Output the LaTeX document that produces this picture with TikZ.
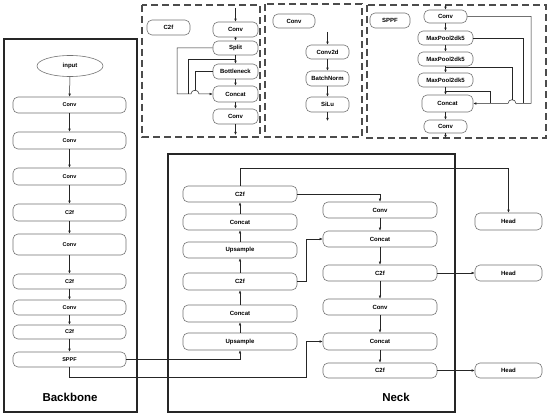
\documentclass[tikz,border=0pt]{standalone}
\usepackage{fontspec}
\setmainfont{Liberation Sans}
\usetikzlibrary{arrows.meta,shapes.geometric}
\begin{document}
\begin{tikzpicture}[x=1pt,y=-1pt,
  blk/.style={draw=black!55, line width=0.6pt, rounded corners=5pt, inner sep=0pt, font=\fontsize{6}{7}\selectfont\bfseries},
  bblk/.style={blk, font=\fontsize{5.5}{6}\selectfont\bfseries, minimum width=113pt},
  lblk/.style={blk, minimum width=114pt},
  arr/.style={-{Latex[length=3pt,width=2.6pt]}, line width=0.5pt, draw=black!85},
  ln/.style={line width=0.5pt, draw=black!85},
  frame/.style={draw=black!85, line width=1.2pt},
  dframe/.style={draw=black!70, line width=1.1pt, dash pattern=on 7pt off 4pt},
  title/.style={font=\fontsize{11.5}{13}\selectfont\bfseries}]
\useasboundingbox (0,0) rectangle (550,417);
\fill[white] (0,0) rectangle (550,417);

% ---------------- Backbone ----------------
\draw[frame] (4,39) rectangle (137,412);
\node[draw=black!55, line width=0.6pt, ellipse, minimum width=66pt, minimum height=21pt, inner sep=0pt, font=\fontsize{6}{7}\selectfont\bfseries] (in) at (70,66) {input};
\node[bblk, minimum height=16pt] (b1) at (69.5,105) {Conv};
\node[bblk, minimum height=17pt] (b2) at (69.5,140.5) {Conv};
\node[bblk, minimum height=17pt] (b3) at (69.5,176.5) {Conv};
\node[bblk, minimum height=17pt] (b4) at (69.5,212.5) {C2f};
\node[bblk, minimum height=21pt] (b5) at (69.5,244.5) {Conv};
\node[bblk, minimum height=15pt] (b6) at (69.5,281.5) {C2f};
\node[bblk, minimum height=15pt] (b7) at (69.5,307.5) {Conv};
\node[bblk, minimum height=14pt] (b8) at (69.5,332) {C2f};
\node[bblk, minimum height=15pt] (b9) at (69.5,359.5) {SPPF};
\draw[arr] (in) -- (b1);
\draw[arr] (b1) -- (b2);
\draw[arr] (b2) -- (b3);
\draw[arr] (b3) -- (b4);
\draw[arr] (b4) -- (b5);
\draw[arr] (b5) -- (b6);
\draw[arr] (b6) -- (b7);
\draw[arr] (b7) -- (b8);
\draw[arr] (b8) -- (b9);
\node[title] (bbl) at (70,397) {Backbone};

% ---------------- Neck ----------------
\draw[frame] (168,154) rectangle (455,412);
\node[lblk, minimum height=16pt] (n1) at (240,194) {C2f};
\node[lblk, minimum height=16pt] (n2) at (240,222) {Concat};
\node[lblk, minimum height=16pt] (n3) at (240,250) {Upsample};
\node[lblk, minimum height=17pt] (n4) at (240,281.5) {C2f};
\node[lblk, minimum height=17pt] (n5) at (240,313.5) {Concat};
\node[lblk, minimum height=17pt] (n6) at (240,341.5) {Upsample};
\draw[arr] (n6) -- (n5);
\draw[arr] (n5) -- (n4);
\draw[arr] (n4) -- (n3);
\draw[arr] (n3) -- (n2);
\draw[arr] (n2) -- (n1);

\node[lblk, minimum height=16pt] (r1) at (380,210) {Conv};
\node[lblk, minimum height=16pt] (r2) at (380,239) {Concat};
\node[lblk, minimum height=16pt] (r3) at (380,273) {C2f};
\node[lblk, minimum height=16pt] (r4) at (380,307) {Conv};
\node[lblk, minimum height=17pt] (r5) at (380,341.5) {Concat};
\node[lblk, minimum height=15pt] (r6) at (380,370.5) {C2f};
\draw[arr] (r1) -- (r2);
\draw[arr] (r2) -- (r3);
\draw[arr] (r3) -- (r4);
\draw[arr] (r4) -- (r5);
\draw[arr] (r5) -- (r6);

\node[blk, minimum width=67pt, minimum height=17pt] (h1) at (508.5,221.5) {Head};
\node[blk, minimum width=67pt, minimum height=16pt] (h2) at (508.5,273) {Head};
\node[blk, minimum width=67pt, minimum height=15pt] (h3) at (508.5,370.5) {Head};
\node[title] (nkl) at (396,397) {Neck};

\coordinate (k1) at (240,168);
\draw[arr] (n1.north) -- (k1) -| (h1.north);
\draw[arr] (n1.east) -| (r1.north);
\coordinate (k2) at (306,281.5);
\draw[arr] (n4.east) -- (k2) |- (r2.west);
\draw[arr] (r3) -- (h2);
\draw[arr] (r6) -- (h3);
\draw[arr] (b9.east) -| (n6.south);
\coordinate (k3) at (306,377.5);
\draw[arr] (b9.south) |- (k3) |- (r5.west);

% ---------------- C2f panel ----------------
\draw[dframe] (142,5) rectangle (260,137);
\node[blk, minimum width=43pt, minimum height=15pt] (pc) at (168.5,27.5) {C2f};
\node[blk, minimum width=45pt, minimum height=15pt] (p1) at (235.5,29.5) {Conv};
\node[blk, minimum width=45pt, minimum height=14pt] (p2) at (235.5,48) {Split};
\node[blk, minimum width=45pt, minimum height=15pt] (p3) at (235.5,71.5) {Bottleneck};
\node[blk, minimum width=45pt, minimum height=16pt] (p4) at (235.5,94) {Concat};
\node[blk, minimum width=45pt, minimum height=15pt] (p5) at (235.5,116.5) {Conv};
\coordinate (pin) at (235.5,8);
\coordinate (pout) at (235.5,135);
\draw[arr] (pin) -- (p1);
\draw[arr] (p1) -- (p2);
\draw[arr] (p2) -- (p3);
\draw[arr] (p3) -- (p4);
\draw[arr] (p4) -- (p5);
\draw[arr] (p5) -- (pout);
\draw[arr] (p2.west) -- (177,48) -- (177,94) -- (191,94) .. controls (191,89) and (199,89) .. (199,94) -- (p4.west);
\draw[ln] (235.5,59) -- (188,59) -- (188,94);
\draw[ln] (p3.west) -- (195,71.5) -- (195,90.3);

% ---------------- Conv panel ----------------
\draw[dframe] (265,4) rectangle (362,137);
\node[blk, minimum width=42pt, minimum height=14pt] (qc) at (294,21) {Conv};
\node[blk, minimum width=43pt, minimum height=14pt] (q1) at (327.5,52) {Conv2d};
\node[blk, minimum width=43pt, minimum height=15pt] (q2) at (327.5,78.5) {BatchNorm};
\node[blk, minimum width=43pt, minimum height=15pt] (q3) at (327.5,104.5) {SiLu};
\coordinate (qin) at (327.5,32);
\coordinate (qout) at (327.5,121);
\draw[arr] (qin) -- (q1);
\draw[arr] (q1) -- (q2);
\draw[arr] (q2) -- (q3);
\draw[arr] (q3) -- (qout);

% ---------------- SPPF panel ----------------
\draw[dframe] (367,5) rectangle (546,138);
\node[blk, minimum width=40pt, minimum height=15pt] (sc) at (390,20.5) {SPPF};
\node[blk, minimum width=43pt, minimum height=13pt] (s1) at (445.5,16.5) {Conv};
\node[blk, minimum width=55pt, minimum height=14pt] (s2) at (445.5,38) {MaxPool2dk5};
\node[blk, minimum width=55pt, minimum height=14pt] (s3) at (445.5,59) {MaxPool2dk5};
\node[blk, minimum width=55pt, minimum height=14pt] (s4) at (445.5,80) {MaxPool2dk5};
\node[blk, minimum width=51pt, minimum height=17pt] (s5) at (447.5,103.5) {Concat};
\node[blk, minimum width=43pt, minimum height=13pt] (s6) at (445.5,126.5) {Conv};
\coordinate (sin) at (445.5,5);
\coordinate (sout) at (445.5,138);
\draw[arr] (sin) -- (s1);
\draw[arr] (s1) -- (s2);
\draw[arr] (s2) -- (s3);
\draw[arr] (s3) -- (s4);
\draw[arr] (s4.south) -- (s4.south |- s5.north);
\draw[arr] (s5.south -| s6.north) -- (s6);
\draw[arr] (s6) -- (sout);
\draw[arr] (s1.east) -- (531,16.5) -- (531,103.5) -- (516,103.5) .. controls (516,98.5) and (508,98.5) .. (508,103.5) -- (s5.east);
\draw[ln] (s2.east) -- (523,38) -- (523,103.5);
\draw[ln] (445.5,67) -- (512,67) -- (512,99.8);
\draw[ln] (445.5,91) -- (490,91) -- (490,103.5);
\end{tikzpicture}
\end{document}
